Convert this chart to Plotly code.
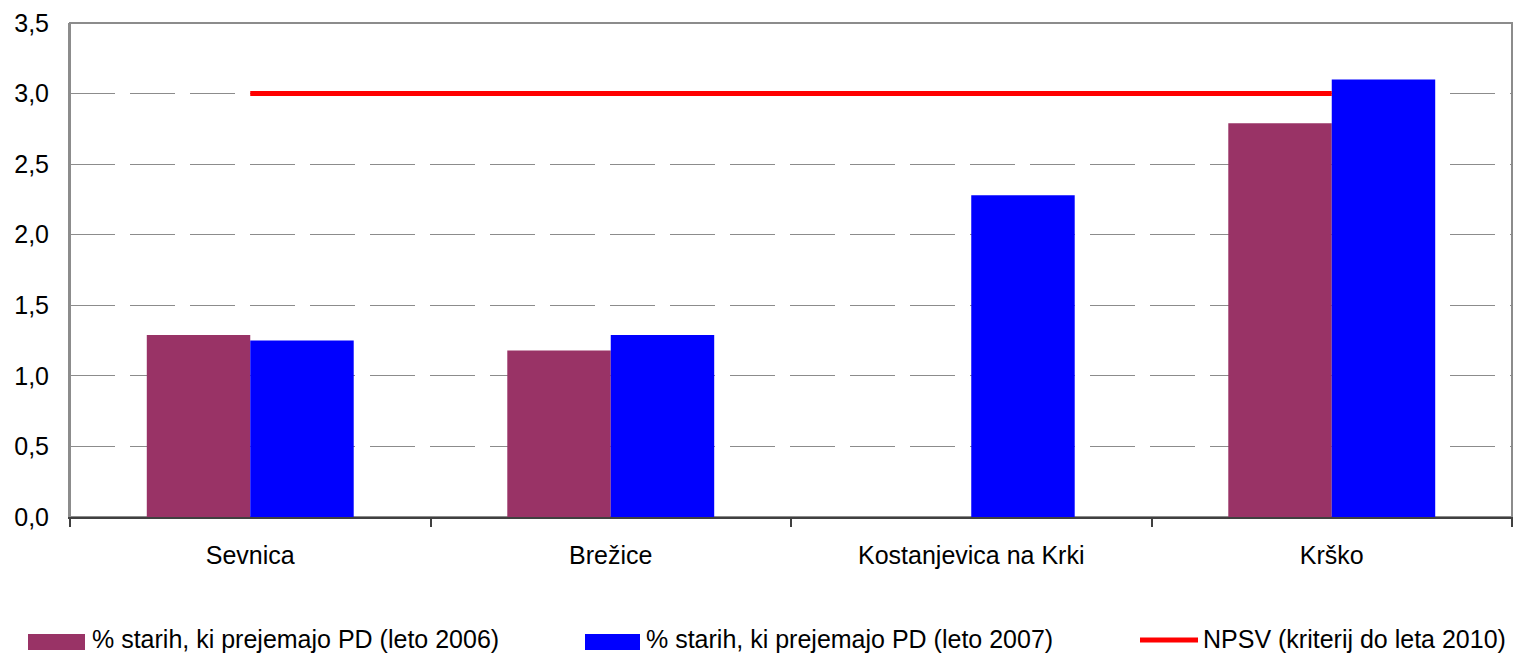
import plotly.graph_objects as go

# municipalities and values
obcine = ["Sevnica", "Brežice", "Kostanjevica na Krki", "Krško"]
delez_2006 = [1.29, 1.18, None, 2.79]
delez_2007 = [1.25, 1.29, 2.28, 3.10]
npsv_kriterij = [3.0, 3.0, 3.0, 3.0]

name_2006 = "% starih, ki prejemajo PD (leto 2006)"
name_2007 = "% starih, ki prejemajo PD (leto 2007)"
name_npsv = "NPSV (kriterij do leta 2010)"

FONT = "Liberation Sans, Arial, sans-serif"
C_2006 = "#993366"
C_2007 = "#0000FF"
C_NPSV = "#FF0000"
FRAME = "#8c8c8c"

# the page puts the figure 8px in from the top-left corner
OFF = 8
W, H = 1521 - OFF, 656 - OFF
ML, MR, MT, MB = 70 - OFF, 9, 23 - OFF, 139
PW, PH = W - ML - MR, H - MT - MB


def px_x(x):
    # page pixel -> paper x
    return (x - OFF - ML) / PW


def px_y(y):
    # page pixel -> paper y
    return (H - MB - (y - OFF)) / PH


fig = go.Figure()
fig.add_trace(go.Bar(x=obcine, y=delez_2006, name=name_2006, marker_color=C_2006,
                     marker_line_width=0))
fig.add_trace(go.Bar(x=obcine, y=delez_2007, name=name_2007, marker_color=C_2007,
                     marker_line_width=0))
fig.add_trace(go.Scatter(x=obcine, y=npsv_kriterij, name=name_npsv, mode="lines",
                         line=dict(color=C_NPSV, width=5)))

fig.update_layout(
    width=W,
    height=H,
    margin=dict(l=ML, r=MR, t=MT, b=MB, autoexpand=False),
    paper_bgcolor="white",
    plot_bgcolor="white",
    separators=",.",
    font=dict(family=FONT, size=25, color="black"),
    barmode="group",
    bargap=0.426,
    bargroupgap=0,
    showlegend=False,
)

fig.update_xaxes(
    automargin=False,
    showline=True,
    linecolor="#404040",
    linewidth=2,
    ticks="outside",
    tickson="boundaries",
    ticklen=8,
    tickcolor="#404040",
    tickwidth=2,
    showgrid=False,
    ticklabelstandoff=15,
    tickfont=dict(size=25),
)

fig.update_yaxes(
    automargin=False,
    range=[0, 3.5],
    dtick=0.5,
    tickformat=".1f",
    showline=True,
    linecolor=FRAME,
    linewidth=2,
    mirror=True,
    ticks="",
    showgrid=True,
    gridcolor=FRAME,
    gridwidth=1,
    griddash="45px,15px",
    zeroline=False,
    ticklabelstandoff=14,
    tickfont=dict(size=25),
)

# gray frame on top and right of the plot area
fig.add_shape(type="rect", xref="paper", yref="paper", x0=0, x1=1, y0=0, y1=1,
              line=dict(color=FRAME, width=2), layer="below")

# legend row under the chart, with wide swatches like the original
legend_items = [
    (name_2006, C_2006, "rect", 28, 85, 92),
    (name_2007, C_2007, "rect", 585, 640, 646),
    (name_npsv, C_NPSV, "line", 1140, 1198, 1203),
]
for label, color, kind, sx0, sx1, tx in legend_items:
    if kind == "rect":
        fig.add_shape(type="rect", xref="paper", yref="paper",
                      x0=px_x(sx0), x1=px_x(sx1), y0=px_y(650), y1=px_y(634),
                      fillcolor=color, line=dict(width=0))
    else:
        fig.add_shape(type="line", xref="paper", yref="paper",
                      x0=px_x(sx0), x1=px_x(sx1), y0=px_y(640), y1=px_y(640),
                      line=dict(color=color, width=5))
    fig.add_annotation(text=label, xref="paper", yref="paper", x=px_x(tx), y=px_y(639),
                       xanchor="left", yanchor="middle", showarrow=False,
                       font=dict(size=25), xshift=-2)

fig.write_html("out.html")
